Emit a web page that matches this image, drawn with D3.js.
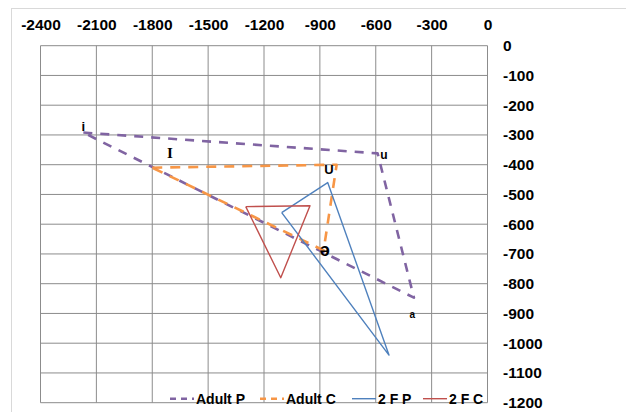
<!DOCTYPE html>
<html>
<head>
<meta charset="utf-8">
<script src="https://cdn.jsdelivr.net/npm/d3@7"></script>
<style>
  body { margin: 0; background: #fff; }
  text { font-family: "Liberation Sans", Arial, sans-serif; font-weight: bold; fill: #000; }
</style>
</head>
<body>
<div id="chart"></div>
<script>
// F2 / F1 values (negated)
const adultP = [[-2170, -292], [-590, -362], [-395, -847], [-2170, -292]];
const adultC = [[-1800, -410], [-810, -400], [-880, -688], [-1800, -410]];
const twoFP = [[-1105, -561], [-858, -460], [-529, -1040], [-1105, -561]];
const twoFC = [[-1298, -541], [-953, -538], [-1110, -780], [-1298, -541]];

const xTicks = [-2400, -2100, -1800, -1500, -1200, -900, -600, -300, 0];
const yTicks = [0, -100, -200, -300, -400, -500, -600, -700, -800, -900, -1000, -1100, -1200];

const vowelLabels = [
  { t: "i", x: -2170, y: -288, size: 13, serif: false },
  { t: "I", x: -1705, y: -378, size: 15, serif: true },
  { t: "u", x: -556, y: -382, size: 12, serif: false },
  { t: "U", x: -851, y: -431, size: 13, serif: false },
  { t: "ə", x: -874, y: -707, size: 18, serif: false },
  { t: "a", x: -404, y: -914, size: 10, serif: false }
];

const series = [
  { name: "Adult P", data: adultP, color: "#8064A2", width: 2.6, dash: "9,8" },
  { name: "Adult C", data: adultC, color: "#F79646", width: 2.6, dash: "10,8" },
  { name: "2 F P", data: twoFP, color: "#4F81BD", width: 1.4, dash: null },
  { name: "2 F C", data: twoFC, color: "#C0504D", width: 1.4, dash: null }
];

const width = 626, height = 412;
const plot = { left: 40.5, right: 487.5, top: 45.7, bottom: 402.7 };

const svg = d3.select("#chart").append("svg")
  .attr("width", width)
  .attr("height", height);

// chart area border
svg.append("rect")
  .attr("x", 11.5).attr("y", 8.5)
  .attr("width", 700).attr("height", 500)
  .attr("fill", "none")
  .attr("stroke", "#D9D9D9");

const x = d3.scaleLinear().domain([-2400, 0]).range([plot.left, plot.right]);
const y = d3.scaleLinear().domain([0, -1200]).range([plot.top, plot.bottom]);

// gridlines
svg.append("g")
  .selectAll("line")
  .data(xTicks)
  .join("line")
  .attr("x1", d => x(d)).attr("x2", d => x(d))
  .attr("y1", plot.top).attr("y2", plot.bottom)
  .attr("stroke", "#8C8C8C").attr("stroke-width", 1);

svg.append("g")
  .selectAll("line")
  .data(yTicks)
  .join("line")
  .attr("x1", plot.left).attr("x2", plot.right)
  .attr("y1", d => y(d)).attr("y2", d => y(d))
  .attr("stroke", "#8C8C8C").attr("stroke-width", 1);

// axes (labels only), plain hyphen minus like the original
const fmt = d => String(d);

const xAxis = d3.axisTop(x).tickValues(xTicks).tickSize(0).tickPadding(0).tickFormat(fmt);
const xAxisG = svg.append("g").attr("transform", "translate(0,29.5)").call(xAxis);
xAxisG.select(".domain").remove();
xAxisG.selectAll("text").style("font-size", "15.5px").attr("dy", 0);

const yAxis = d3.axisRight(y).tickValues(yTicks).tickSize(0).tickPadding(0).tickFormat(fmt);
const yAxisG = svg.append("g").attr("transform", "translate(503,0)").call(yAxis);
yAxisG.select(".domain").remove();
yAxisG.selectAll("text").style("font-size", "15.5px");

// series
const line = d3.line().x(d => x(d[0])).y(d => y(d[1]));

svg.append("g")
  .selectAll("path")
  .data(series)
  .join("path")
  .attr("d", d => line(d.data))
  .attr("fill", "none")
  .attr("stroke", d => d.color)
  .attr("stroke-width", d => d.width)
  .attr("stroke-dasharray", d => d.dash)
  .attr("stroke-linejoin", "round");

// vowel labels
svg.append("g")
  .selectAll("text")
  .data(vowelLabels)
  .join("text")
  .attr("x", d => x(d.x))
  .attr("y", d => y(d.y))
  .attr("text-anchor", "middle")
  .style("font-size", d => d.size + "px")
  .style("font-family", d => d.serif ? "'Liberation Serif', 'Times New Roman', serif" : null)
  .text(d => d.t);

// legend
const legendX = [170, 260, 352, 423];
const legend = svg.append("g")
  .selectAll("g")
  .data(series)
  .join("g")
  .attr("transform", (d, i) => `translate(${legendX[i]},398.7)`);

legend.append("line")
  .attr("x1", 0).attr("x2", 24)
  .attr("stroke", d => d.color)
  .attr("stroke-width", d => d.width)
  .attr("stroke-dasharray", d => d.dash ? "6,5" : null);

legend.append("text")
  .attr("x", 26)
  .attr("y", 5.5)
  .style("font-size", "14px")
  .text(d => d.name);
</script>
</body>
</html>
